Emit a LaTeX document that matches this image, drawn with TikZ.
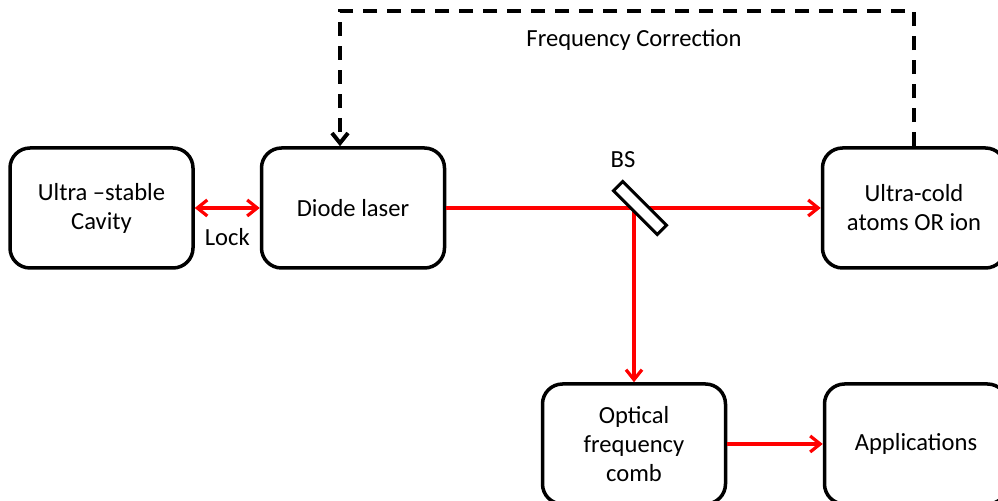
\documentclass[tikz,border=0pt]{standalone}
\usepackage{fontspec}
\setmainfont{Carlito}
\usetikzlibrary{arrows.meta}

\begin{document}
\begin{tikzpicture}[x=0.5pt,y=-0.5pt,font=\fontsize{12.3}{14.5}\selectfont,
	blok/.style={draw,line width=1.75pt,rounded corners=10pt,minimum width=91.5pt,minimum height=60pt,align=center},
	beam/.style={red,line width=1.6pt,-{Straight Barb[length=5pt,width=8pt]}}]

	\clip (0,0) rectangle (998,501);

	\node[blok] (cavity) at (101.5,208) {Ultra --stable\\Cavity};
	\node[blok] (laser) at (353,208) {Diode laser};
	\node[blok] (atoms) at (914,208) {Ultra-cold\\atoms OR ion};
	\node[blok] (comb) at (634,444) {Optical\\frequency\\comb};
	\node[blok] (apps) at (916,444) {Applications};

	%beams
	\draw[beam,{Straight Barb[length=5pt,width=8pt]}-{Straight Barb[length=5pt,width=8pt]}] (cavity) -- (laser) node[midway,below=6pt,text=black] (lock) {Lock};
	\draw[beam] (laser) -- (atoms);
	\draw[beam] (comb.north |- laser.east) -- (comb.north);
	\draw[beam] (comb) -- (apps);

	%beam splitter
	\node[draw,fill=white,line width=1.5pt,minimum width=31pt,minimum height=6.5pt,inner sep=0pt,rotate=-45] (bs) at (640,208) {};
	\node (bslbl) at (623,160) {BS};

	%feedback
	\draw[line width=2pt,dash pattern=on 7pt off 5pt,-{Straight Barb[length=5pt,width=8pt]}] (atoms.north) -- ++(0,-135) -| ([xshift=-6.5pt]laser.north);
	\node (fclbl) at (634,40) {Frequency Correction};
\end{tikzpicture}
\end{document}
